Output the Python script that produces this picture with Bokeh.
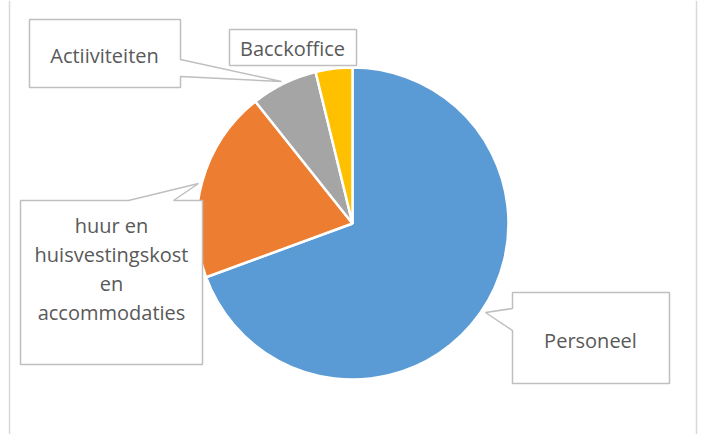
import math
from bokeh.plotting import figure
from bokeh.models import Range1d, ColumnDataSource
from bokeh.embed import file_html
from bokeh.resources import INLINE
from bokeh.core.properties import value

# ---- data ----
categories = ["Personeel", "huur en huisvestingskost en accommodaties", "Actiiviteiten", "Bacckoffice"]
shares = [69.4, 19.9, 6.9, 3.8]
colors = ["#5B9BD5", "#ED7D31", "#A5A5A5", "#FFC000"]
label_lines = [["Personeel"], ["huur en", "huisvestingskost", "en", "accommodaties"], ["Actiiviteiten"], ["Bacckoffice"]]

W, H = 702, 434
def Y(y):
    return H - y

p = figure(width=W, height=H, output_backend="svg", toolbar_location=None,
           x_range=Range1d(0, W), y_range=Range1d(0, H), min_border=0)
p.axis.visible = False
p.grid.visible = False
p.outline_line_color = None
p.background_fill_color = "white"
p.border_fill_color = "white"

# chart frame (vertical edges visible)
p.segment(x0=[9, 696], y0=[Y(0), Y(0)], x1=[9, 696], y1=[Y(H), Y(H)],
          line_color="#D9D9D9", line_width=1.5)

# pie
cx, cy, r = 352, Y(223), 156
total = sum(shares)
starts, ends = [], []
acc = 0.0
for s in shares:
    a0 = math.pi / 2 - 2 * math.pi * acc / total
    acc += s
    a1 = math.pi / 2 - 2 * math.pi * acc / total
    starts.append(a0)
    ends.append(a1)
src = ColumnDataSource(dict(start=starts, end=ends, color=colors, cat=categories))
p.wedge(x=cx, y=cy, radius=r, start_angle="start", end_angle="end", direction="clock",
        fill_color="color", line_color="white", line_width=2.5, source=src)

# callout boxes (screen coords)
box_color = "#BFBFBF"
callouts = [
    # Personeel: pointer on left edge
    [(512, 292), (669, 292), (669, 383), (512, 383), (512, 330), (485, 312), (512, 308)],
    # huur: pointer on top edge
    [(20, 200), (128, 200), (198, 183), (173, 200), (202, 200), (202, 364), (20, 364)],
    # Actiiviteiten: pointer on right edge
    [(29, 19), (180, 19), (180, 59), (281, 81), (180, 76), (180, 87), (29, 87)],
    # Bacckoffice: plain box
    [(229, 29), (356, 29), (356, 65), (229, 65)],
]
p.patches(xs=[[pt[0] for pt in c] for c in callouts],
          ys=[[Y(pt[1]) for pt in c] for c in callouts],
          fill_color="white", line_color=box_color, line_width=1.5)

# label texts
centers = [(590, 340), (111, 225), (104, 55), (292, 48)]
line_h = 29
tx, ty, tt = [], [], []
for (x0, y0), lines in zip(centers, label_lines):
    for i, ln in enumerate(lines):
        tx.append(x0)
        ty.append(Y(y0 + i * line_h))
        tt.append(ln)
p.text(x=tx, y=ty, text=tt, text_font=value("Open Sans"), text_font_size="20px",
       text_color="#595959", text_align="center", text_baseline="middle")

open("out.html", "w").write(file_html(p, INLINE))
